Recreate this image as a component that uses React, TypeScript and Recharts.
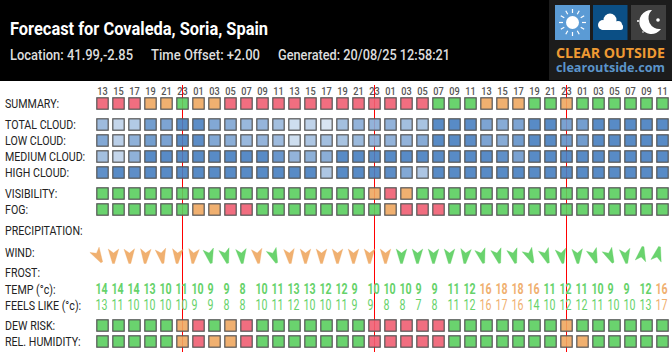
// App.tsx
import { ReferenceLine, Scatter, ScatterChart, XAxis, YAxis } from "recharts";

const HOURS = [
  "13", "15", "17", "19", "21", "23", "01", "03", "05", "07", "09", "11",
  "13", "15", "17", "19", "21", "23", "01", "03", "05", "07", "09", "11",
  "13", "15", "17", "19", "21", "23", "01", "03", "05", "07", "09", "11",
];
const MIDNIGHT_COLUMNS = [5, 17, 29];

// 0 = good (green), 1 = fair (orange), 2 = poor (red)
const SUMMARY = [2, 2, 2, 1, 1, 0, 1, 1, 2, 2, 2, 2, 2, 2, 2, 2, 2, 2, 2, 2, 2, 0, 0, 0, 1, 1, 1, 0, 0, 1, 0, 0, 0, 0, 0, 0];
const VISIBILITY = [0, 0, 0, 0, 0, 0, 0, 0, 0, 0, 0, 0, 0, 0, 0, 0, 0, 1, 2, 1, 0, 0, 0, 0, 0, 0, 0, 0, 0, 0, 0, 0, 0, 0, 0, 0];
const FOG = [0, 0, 0, 0, 0, 0, 1, 1, 2, 2, 0, 0, 0, 0, 0, 0, 0, 0, 1, 2, 2, 2, 0, 0, 0, 0, 0, 0, 0, 0, 0, 0, 0, 0, 0, 0];
const DEW_RISK = [0, 0, 0, 0, 0, 1, 2, 0, 1, 2, 0, 0, 0, 0, 0, 0, 0, 2, 2, 2, 2, 2, 0, 0, 0, 0, 0, 0, 0, 1, 0, 0, 0, 0, 0, 0];
const REL_HUMIDITY = [0, 0, 0, 0, 0, 1, 2, 1, 1, 2, 0, 0, 0, 0, 0, 0, 0, 2, 2, 2, 2, 2, 0, 0, 0, 0, 0, 0, 0, 1, 1, 0, 0, 0, 0, 0];

// cloud cover, percent
const TOTAL_CLOUD = [58, 35, 46, 84, 78, 100, 98, 75, 70, 61, 64, 55, 29, 38, 23, 55, 65, 65, 65, 55, 52, 100, 100, 98, 78, 72, 78, 100, 100, 80, 83, 100, 100, 100, 100, 100];
const LOW_CLOUD = [75, 41, 67, 84, 80, 100, 98, 75, 70, 61, 64, 58, 29, 49, 55, 52, 60, 65, 65, 65, 72, 100, 100, 98, 78, 72, 85, 100, 100, 85, 85, 100, 100, 100, 100, 100];
const MEDIUM_CLOUD = [55, 35, 67, 100, 100, 100, 100, 100, 100, 100, 100, 90, 65, 68, 70, 100, 100, 100, 100, 100, 100, 100, 100, 100, 100, 95, 80, 100, 100, 100, 100, 100, 100, 100, 100, 100];
const HIGH_CLOUD = [95, 100, 97, 100, 100, 100, 100, 100, 100, 100, 100, 100, 100, 100, 49, 100, 100, 100, 98, 75, 50, 100, 100, 100, 100, 100, 100, 100, 100, 100, 100, 100, 100, 100, 100, 100];

// degrees the arrow is turned from pointing straight down
const WIND_ANGLE = [-30, 0, -2, 3, -10, 3, 5, -12, -15, -5, -8, -22, -5, 0, 0, 0, 0, 0, 0, 0, 0, 0, 0, 5, -15, -15, -15, -25, -20, -10, -3, -20, -25, -8, -170, -166];
const WIND_LEVEL = [1, 1, 1, 1, 1, 1, 1, 0, 0, 0, 1, 0, 1, 1, 1, 1, 1, 1, 1, 0, 0, 0, 0, 0, 0, 0, 0, 0, 0, 0, 0, 0, 0, 0, 0, 0];

const TEMP = [14, 14, 14, 13, 10, 11, 10, 9, 9, 8, 10, 11, 13, 13, 12, 12, 9, 10, 10, 10, 9, 9, 11, 12, 16, 18, 18, 16, 11, 12, 11, 10, 9, 9, 12, 16];
const FEELS_LIKE = [13, 11, 10, 10, 10, 10, 9, 9, 8, 8, 10, 11, 12, 10, 10, 11, 9, 9, 8, 8, 7, 8, 11, 12, 16, 17, 16, 14, 10, 12, 12, 11, 10, 10, 13, 17];

const ROW_NAMES = [
  "SUMMARY:", "TOTAL CLOUD:", "LOW CLOUD:", "MEDIUM CLOUD:", "HIGH CLOUD:", "VISIBILITY:", "FOG:",
  "PRECIPITATION:", "WIND:", "FROST:", "TEMP (°c):", "FEELS LIKE (°c):", "DEW RISK:", "REL. HUMIDITY:",
];
const ROW_Y = [103.5, 124.5, 140.5, 156.5, 172.5, 193.5, 209.5, 230.5, 252, 272.5, 289, 305, 325.5, 341.5];

const LEVEL_COLORS = ["#5ace5e", "#eea760", "#f05e72"];
const WARM_FROM = 16;
const FONT = "Roboto, sans-serif";

const rowY = (name: string) => ROW_Y[ROW_NAMES.indexOf(name)];
const toPoints = (values: number[], name: string) =>
  values.map((value, x) => ({ x, y: rowY(name), value }));

function cloudColor(pct: number) {
  const a = pct / 100;
  const mix = (c: number) => Math.round(255 - (255 - c) * a);
  return `rgb(${mix(70)},${mix(126)},${mix(192)})`;
}

function Cell({ cx, cy, fill }: any) {
  return (
    <rect x={cx - 5.7} y={cy - 5.7} width={11.4} height={11.4} fill={fill} fillOpacity={0.9} stroke="#555555" strokeWidth={1.2} />
  );
}
const levelCell = (props: any) => <Cell {...props} fill={LEVEL_COLORS[props.payload.value]} />;
const cloudCell = (props: any) => <Cell {...props} fill={cloudColor(props.payload.value)} />;

function windArrow({ cx, cy, payload }: any) {
  const color = LEVEL_COLORS[WIND_LEVEL[payload.x]];
  return (
    <polygon
      points="-5.3,-6 0,-2 5.3,-6 1,8.5 -1,8.5"
      fill={color}
      fillOpacity={0.9}
      stroke={color}
      strokeOpacity={0.5}
      strokeWidth={0.6}
      transform={`translate(${cx - 5},${cy + 3}) rotate(${payload.value})`}
    />
  );
}

function Squeezed({ x, y, size, weight, color, squeeze, children }: any) {
  return (
    <text
      transform={`translate(${x},${y}) scale(${squeeze},1)`}
      fontFamily={FONT}
      fontSize={size}
      fontWeight={weight}
      fill={color}
    >
      {children}
    </text>
  );
}

const reading = (weight: number, green: string, orange: string) => ({ cx, cy, payload }: any) => (
  <Squeezed x={cx - 7} y={cy + 5} size={14} weight={weight} squeeze={0.76} color={payload.value >= WARM_FROM ? orange : green}>
    {payload.value}
  </Squeezed>
);

function HourTick({ x, y, payload }: any) {
  return (
    <text
      transform={`translate(${x},${y + 10}) scale(0.8,1)`}
      textAnchor="middle"
      fontFamily={FONT}
      fontSize={11.5}
      fontWeight={500}
      fill="#555555"
    >
      {HOURS[payload.value]}
    </text>
  );
}

function RowTick({ y, payload }: any) {
  return (
    <Squeezed x={5} y={y + 4.5} size={13} weight={400} squeeze={0.82} color="#222222">
      {ROW_NAMES[ROW_Y.indexOf(payload.value)]}
    </Squeezed>
  );
}

function Header() {
  const rays = [0, 30, 60, 90, 120, 150, 180, 210, 240, 270, 300, 330];
  return (
    <svg width={672} height={81} style={{ position: "absolute", left: 0, top: 0 }}>
      <rect width={672} height={81} fill="#000000" />
      <text x={10} y={35} fontFamily={FONT} fontSize={18.5} fontWeight={700} fill="#ffffff" textLength={258} lengthAdjust="spacingAndGlyphs">
        Forecast for Covaleda, Soria, Spain
      </text>
      <g fontFamily={FONT} fontSize={15.5} fontWeight={500} fill="#dddddd">
        <text x={10} y={60} textLength={123} lengthAdjust="spacingAndGlyphs">Location: 41.99,-2.85</text>
        <text x={151} y={60} textLength={109} lengthAdjust="spacingAndGlyphs">Time Offset: +2.00</text>
        <text x={278} y={60} textLength={172} lengthAdjust="spacingAndGlyphs">Generated: 20/08/25 12:58:21</text>
      </g>

      <rect x={549} y={0} width={123} height={80} fill="#1c1c1c" />
      <rect x={555} y={5} width={35} height={35} fill="#5b9bd5" />
      <circle cx={572.5} cy={22.5} r={6.5} fill="#ffffff" />
      {rays.map((r) => (
        <line key={r} x1={572.5} y1={13} x2={572.5} y2={9} stroke="#ffffff" strokeWidth={1.2} transform={`rotate(${r} 572.5 22.5)`} />
      ))}
      <rect x={593} y={5} width={34.5} height={35} fill="#0b4f85" />
      <g fill="#ffffff">
        <circle cx={603} cy={25} r={5} />
        <circle cx={610} cy={20} r={6.5} />
        <circle cx={618} cy={25} r={4} />
        <rect x={601} y={24} width={22} height={6} rx={2.5} />
      </g>
      <rect x={631} y={5} width={35} height={35} fill="#3f3f3f" />
      <path d="M652 10 A12 12 0 1 0 661 29 A11 11 0 0 1 652 10 Z" fill="#ffffff" />
      <circle cx={638} cy={21} r={1} fill="#ffffff" />
      <circle cx={658} cy={20} r={1.8} fill="#ffffff" />
      <circle cx={643} cy={32} r={0.8} fill="#ffffff" />
      <text x={556} y={58} fontFamily="'Open Sans', sans-serif" fontSize={14.3} fontWeight={700} fill="#ef9a33" textLength={109} lengthAdjust="spacingAndGlyphs">
        CLEAR OUTSIDE
      </text>
      <text x={556} y={72} fontFamily="'Open Sans', sans-serif" fontSize={13} fontWeight={700} fill="#5b94c9" textLength={109} lengthAdjust="spacingAndGlyphs">
        clearoutside.com
      </text>
    </svg>
  );
}

export default function App() {
  return (
    <div style={{ position: "absolute", left: 0, top: 0, width: 672, height: 352, background: "#ffffff", overflow: "hidden" }}>
      <Header />
      <div style={{ position: "absolute", left: 0, top: 0 }}>
        <ScatterChart width={672} height={352} margin={{ top: 84, right: 1.5, bottom: 0, left: 0 }}>
          <XAxis
            type="number"
            dataKey="x"
            orientation="top"
            height={1}
            domain={[-0.5, 35.5]}
            ticks={HOURS.map((_, i) => i)}
            interval={0}
            axisLine={false}
            tickLine={false}
            tickSize={0}
            tickMargin={0}
            tick={HourTick}
          />
          <YAxis
            type="number"
            dataKey="y"
            width={94.5}
            reversed
            domain={[85, 352]}
            ticks={ROW_Y}
            interval={0}
            axisLine={false}
            tickLine={false}
            tick={RowTick}
          />
          {MIDNIGHT_COLUMNS.map((col) => (
            <ReferenceLine key={col} x={col} stroke="#ff0000" strokeWidth={1} />
          ))}
          <Scatter data={toPoints(SUMMARY, "SUMMARY:")} shape={levelCell} isAnimationActive={false} />
          <Scatter data={toPoints(TOTAL_CLOUD, "TOTAL CLOUD:")} shape={cloudCell} isAnimationActive={false} />
          <Scatter data={toPoints(LOW_CLOUD, "LOW CLOUD:")} shape={cloudCell} isAnimationActive={false} />
          <Scatter data={toPoints(MEDIUM_CLOUD, "MEDIUM CLOUD:")} shape={cloudCell} isAnimationActive={false} />
          <Scatter data={toPoints(HIGH_CLOUD, "HIGH CLOUD:")} shape={cloudCell} isAnimationActive={false} />
          <Scatter data={toPoints(VISIBILITY, "VISIBILITY:")} shape={levelCell} isAnimationActive={false} />
          <Scatter data={toPoints(FOG, "FOG:")} shape={levelCell} isAnimationActive={false} />
          <Scatter data={toPoints(WIND_ANGLE, "WIND:")} shape={windArrow} isAnimationActive={false} />
          <Scatter data={toPoints(TEMP, "TEMP (°c):")} shape={reading(700, "#66d26a", "#f0b070")} isAnimationActive={false} />
          <Scatter data={toPoints(FEELS_LIKE, "FEELS LIKE (°c):")} shape={reading(400, "#66d26a", "#f0b070")} isAnimationActive={false} />
          <Scatter data={toPoints(DEW_RISK, "DEW RISK:")} shape={levelCell} isAnimationActive={false} />
          <Scatter data={toPoints(REL_HUMIDITY, "REL. HUMIDITY:")} shape={levelCell} isAnimationActive={false} />
        </ScatterChart>
      </div>
    </div>
  );
}
